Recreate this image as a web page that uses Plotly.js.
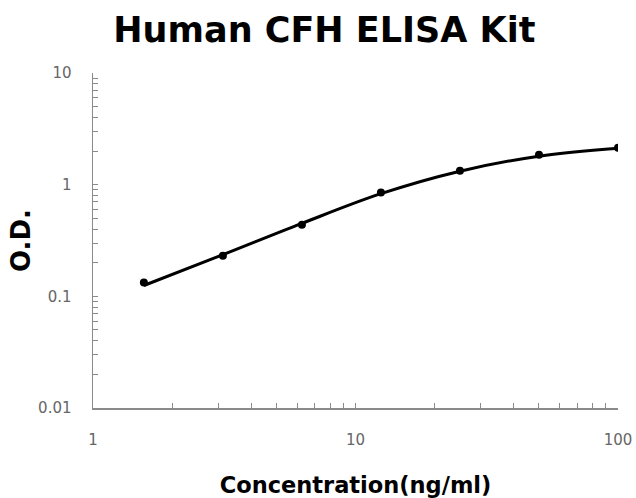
<!DOCTYPE html>
<html>
<head>
<meta charset="utf-8">
<script src="https://cdn.plot.ly/plotly-3.0.1.min.js"></script>
<style>html,body{margin:0;padding:0;background:#fff;}#chart{width:636px;height:498px;}</style>
</head>
<body>
<div id="chart"></div>
<script>
// Standard concentrations (ng/ml)
const concentration = [1.5625, 3.125, 6.25, 12.5, 25, 50, 100];
// Measured O.D. values
const odValues = [0.133, 0.231, 0.438, 0.85, 1.33, 1.85, 2.14];
// Fitted curve values read at the same concentrations
const curveValues = [0.125, 0.236, 0.45, 0.83, 1.32, 1.80, 2.12];

const xTickVals = [1, 10, 100];
const xTickText = ['1', '10', '100'];
const yTickVals = [0.01, 0.1, 1, 10];
const yTickText = ['0.01', '0.1', '1', '10'];

const boldFont = '"DejaVu Sans", Verdana, sans-serif';
const tickFont = '"DejaVu Sans", Verdana, sans-serif';

const traces = [
  {
    x: concentration, y: curveValues, type: 'scatter', mode: 'lines',
    line: {color: '#000', width: 3, shape: 'spline', smoothing: 1},
    hoverinfo: 'skip', showlegend: false
  },
  {
    x: concentration, y: odValues, type: 'scatter', mode: 'markers',
    marker: {color: '#000', size: 8},
    showlegend: false
  }
];

const axisCommon = {
  type: 'log',
  showgrid: false,
  zeroline: false,
  showline: true,
  linecolor: '#8a8a8a',
  linewidth: 1.5,
  ticks: 'inside',
  ticklen: 5,
  tickwidth: 1,
  tickcolor: '#8a8a8a',
  tickmode: 'array',
  tickfont: {family: tickFont, size: 15, color: '#666'},
  minor: {ticks: 'inside', ticklen: 5, tickwidth: 1, tickcolor: '#8a8a8a', dtick: 'D1', showgrid: false}
};

const layout = {
  width: 636, height: 498,
  paper_bgcolor: '#fff', plot_bgcolor: '#fff',
  margin: {l: 93, r: 18, t: 73, b: 90},
  title: {
    text: '<b>Human CFH ELISA Kit</b>',
    font: {family: boldFont, size: 35, color: '#000'},
    x: 0.51, xanchor: 'center', yref: 'container', y: 1 - 30 / 498, yanchor: 'middle'
  },
  xaxis: Object.assign({}, axisCommon, {
    range: [0, 2],
    tickvals: xTickVals, ticktext: xTickText,
    ticklabelstandoff: 17,
    title: {text: '<b>Concentration(ng/ml)</b>', font: {family: boldFont, size: 22.5, color: '#000'}, standoff: 29}
  }),
  yaxis: Object.assign({}, axisCommon, {
    range: [-2, 1],
    tickvals: yTickVals, ticktext: yTickText,
    ticklabelstandoff: 17,
    title: {text: '<b>O.D.</b>', font: {family: boldFont, size: 26, color: '#000'}, standoff: 0}
  })
};

Plotly.newPlot('chart', traces, layout, {displayModeBar: false, staticPlot: true});
</script>
</body>
</html>
